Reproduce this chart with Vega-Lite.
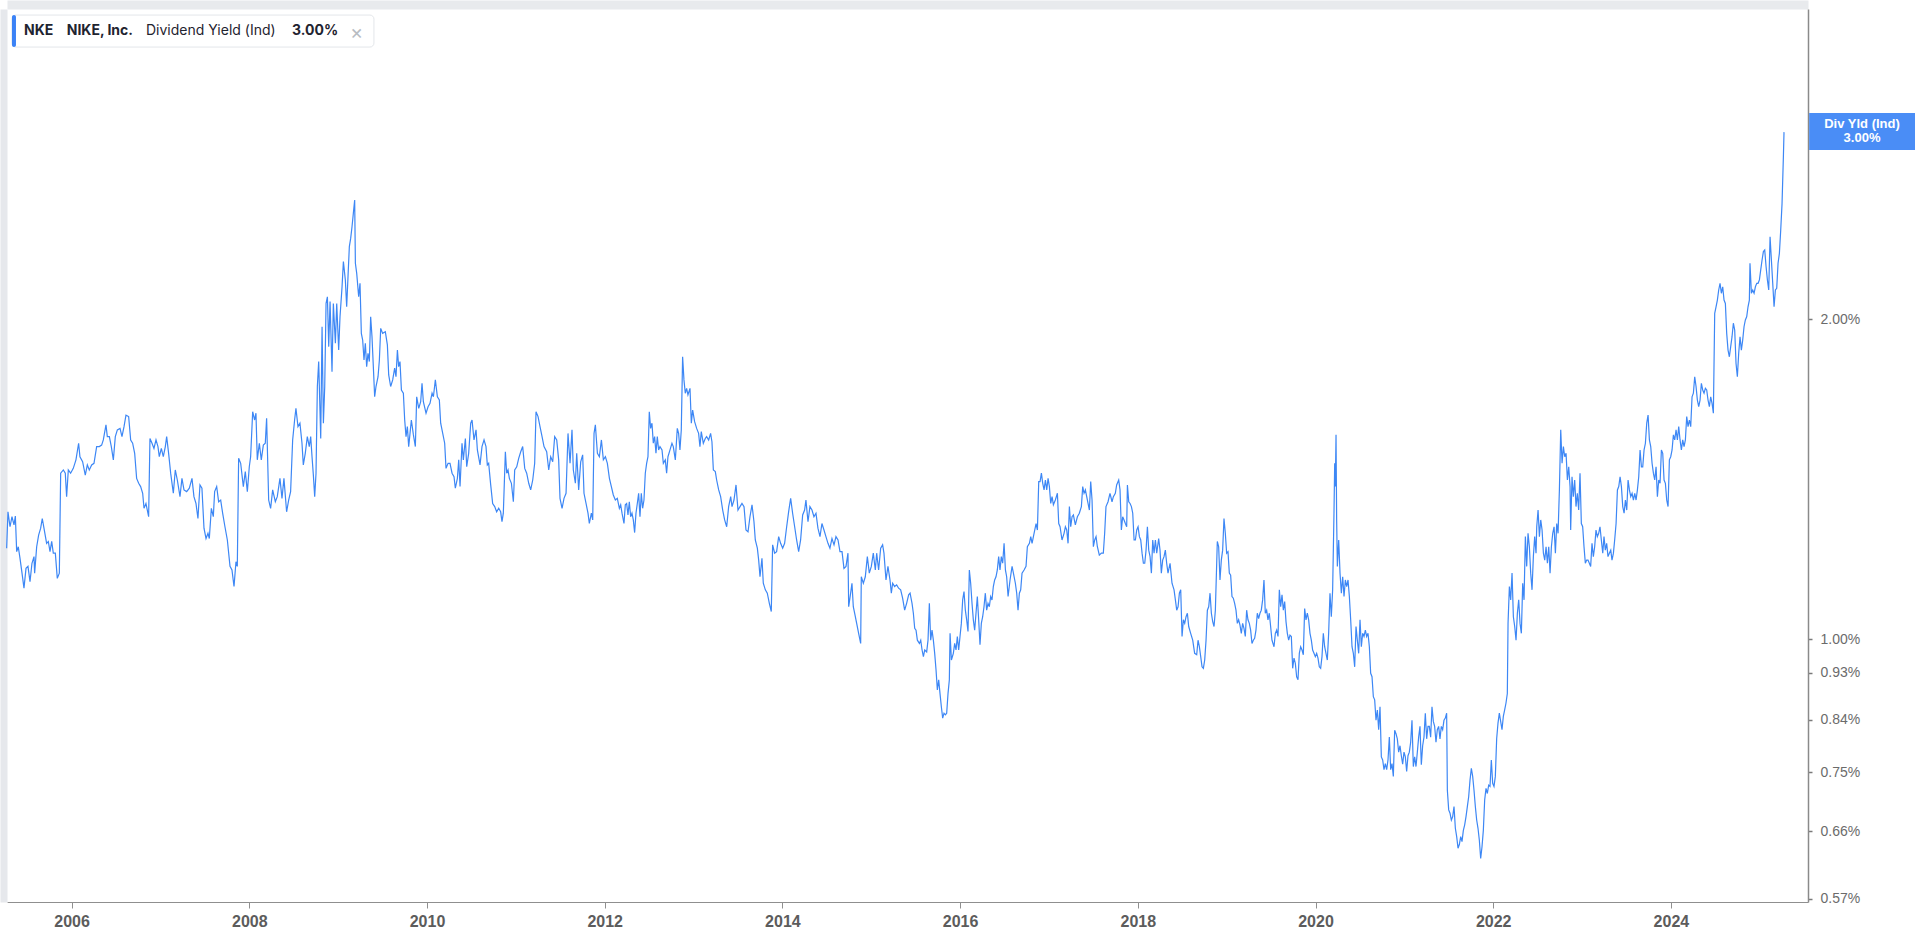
{
"$schema":"https://vega.github.io/schema/vega-lite/v6.json",
"width":1801,"height":893,
"autosize":{"type":"none"},
"padding":{"left":7,"top":9,"right":107,"bottom":36},
"background":"white",
"config":{"view":{"stroke":null},"font":"Liberation Sans"},
"datasets":{"nke":[
{"year":2005.269,"yield":1.218},{"year":2005.284,"yield":1.318},{"year":2005.307,"yield":1.276},{"year":2005.329,"yield":1.304},{"year":2005.352,"yield":1.281},{"year":2005.367,"yield":1.306},{"year":2005.382,"yield":1.209},{"year":2005.400,"yield":1.222},{"year":2005.419,"yield":1.192},{"year":2005.442,"yield":1.154},{"year":2005.464,"yield":1.117},{"year":2005.487,"yield":1.166},{"year":2005.509,"yield":1.171},{"year":2005.532,"yield":1.133},{"year":2005.554,"yield":1.179},{"year":2005.577,"yield":1.196},{"year":2005.584,"yield":1.154},{"year":2005.607,"yield":1.222},{"year":2005.629,"yield":1.253},{"year":2005.652,"yield":1.272},{"year":2005.670,"yield":1.299},{"year":2005.689,"yield":1.272},{"year":2005.719,"yield":1.231},{"year":2005.738,"yield":1.236},{"year":2005.757,"yield":1.209},{"year":2005.776,"yield":1.236},{"year":2005.794,"yield":1.205},{"year":2005.817,"yield":1.205},{"year":2005.839,"yield":1.141},{"year":2005.862,"yield":1.154},{"year":2005.877,"yield":1.433},{"year":2005.907,"yield":1.443},{"year":2005.929,"yield":1.433},{"year":2005.944,"yield":1.362},{"year":2005.963,"yield":1.443},{"year":2005.989,"yield":1.433},{"year":2006.019,"yield":1.448},{"year":2006.049,"yield":1.475},{"year":2006.079,"yield":1.529},{"year":2006.094,"yield":1.485},{"year":2006.124,"yield":1.469},{"year":2006.154,"yield":1.427},{"year":2006.177,"yield":1.459},{"year":2006.199,"yield":1.443},{"year":2006.226,"yield":1.459},{"year":2006.252,"yield":1.464},{"year":2006.282,"yield":1.518},{"year":2006.312,"yield":1.518},{"year":2006.338,"yield":1.523},{"year":2006.357,"yield":1.540},{"year":2006.387,"yield":1.591},{"year":2006.402,"yield":1.551},{"year":2006.425,"yield":1.551},{"year":2006.447,"yield":1.518},{"year":2006.470,"yield":1.475},{"year":2006.492,"yield":1.551},{"year":2006.515,"yield":1.574},{"year":2006.545,"yield":1.579},{"year":2006.567,"yield":1.551},{"year":2006.590,"yield":1.585},{"year":2006.612,"yield":1.625},{"year":2006.642,"yield":1.620},{"year":2006.665,"yield":1.540},{"year":2006.687,"yield":1.529},{"year":2006.710,"yield":1.496},{"year":2006.732,"yield":1.417},{"year":2006.755,"yield":1.402},{"year":2006.777,"yield":1.392},{"year":2006.800,"yield":1.372},{"year":2006.815,"yield":1.328},{"year":2006.837,"yield":1.342},{"year":2006.867,"yield":1.304},{"year":2006.882,"yield":1.545},{"year":2006.905,"yield":1.529},{"year":2006.927,"yield":1.512},{"year":2006.950,"yield":1.540},{"year":2006.972,"yield":1.518},{"year":2006.987,"yield":1.485},{"year":2007.010,"yield":1.512},{"year":2007.032,"yield":1.485},{"year":2007.055,"yield":1.518},{"year":2007.070,"yield":1.551},{"year":2007.092,"yield":1.496},{"year":2007.115,"yield":1.433},{"year":2007.145,"yield":1.372},{"year":2007.167,"yield":1.443},{"year":2007.190,"yield":1.412},{"year":2007.220,"yield":1.362},{"year":2007.242,"yield":1.417},{"year":2007.265,"yield":1.382},{"year":2007.295,"yield":1.377},{"year":2007.325,"yield":1.387},{"year":2007.355,"yield":1.417},{"year":2007.377,"yield":1.362},{"year":2007.400,"yield":1.342},{"year":2007.422,"yield":1.299},{"year":2007.445,"yield":1.397},{"year":2007.467,"yield":1.387},{"year":2007.490,"yield":1.272},{"year":2007.513,"yield":1.244},{"year":2007.535,"yield":1.258},{"year":2007.550,"yield":1.244},{"year":2007.573,"yield":1.328},{"year":2007.595,"yield":1.304},{"year":2007.610,"yield":1.377},{"year":2007.633,"yield":1.392},{"year":2007.655,"yield":1.347},{"year":2007.678,"yield":1.352},{"year":2007.700,"yield":1.314},{"year":2007.726,"yield":1.276},{"year":2007.753,"yield":1.240},{"year":2007.783,"yield":1.171},{"year":2007.805,"yield":1.162},{"year":2007.828,"yield":1.121},{"year":2007.850,"yield":1.183},{"year":2007.865,"yield":1.171},{"year":2007.880,"yield":1.480},{"year":2007.903,"yield":1.464},{"year":2007.933,"yield":1.392},{"year":2007.955,"yield":1.438},{"year":2007.978,"yield":1.377},{"year":2008.000,"yield":1.453},{"year":2008.015,"yield":1.485},{"year":2008.038,"yield":1.637},{"year":2008.060,"yield":1.608},{"year":2008.075,"yield":1.632},{"year":2008.090,"yield":1.475},{"year":2008.113,"yield":1.529},{"year":2008.135,"yield":1.475},{"year":2008.158,"yield":1.523},{"year":2008.180,"yield":1.529},{"year":2008.195,"yield":1.614},{"year":2008.218,"yield":1.352},{"year":2008.240,"yield":1.328},{"year":2008.263,"yield":1.382},{"year":2008.293,"yield":1.347},{"year":2008.315,"yield":1.362},{"year":2008.345,"yield":1.417},{"year":2008.368,"yield":1.357},{"year":2008.390,"yield":1.417},{"year":2008.420,"yield":1.318},{"year":2008.443,"yield":1.352},{"year":2008.465,"yield":1.377},{"year":2008.488,"yield":1.540},{"year":2008.510,"yield":1.608},{"year":2008.525,"yield":1.649},{"year":2008.548,"yield":1.585},{"year":2008.570,"yield":1.597},{"year":2008.593,"yield":1.529},{"year":2008.608,"yield":1.459},{"year":2008.630,"yield":1.496},{"year":2008.653,"yield":1.551},{"year":2008.675,"yield":1.518},
{"year":2008.691,"yield":1.551},{"year":2008.706,"yield":1.485},{"year":2008.721,"yield":1.427},{"year":2008.736,"yield":1.362},{"year":2008.751,"yield":1.433},{"year":2008.766,"yield":1.729},{"year":2008.781,"yield":1.825},{"year":2008.804,"yield":1.545},{"year":2008.819,"yield":1.968},{"year":2008.834,"yield":1.597},{"year":2008.849,"yield":1.729},{"year":2008.864,"yield":2.070},{"year":2008.879,"yield":2.100},{"year":2008.894,"yield":1.885},{"year":2008.909,"yield":2.078},{"year":2008.931,"yield":1.785},{"year":2008.946,"yield":2.070},{"year":2008.969,"yield":1.899},{"year":2008.984,"yield":2.070},{"year":2009.006,"yield":1.871},{"year":2009.021,"yield":2.011},{"year":2009.044,"yield":2.146},{"year":2009.059,"yield":2.266},{"year":2009.081,"yield":2.178},{"year":2009.096,"yield":2.055},{"year":2009.111,"yield":2.193},{"year":2009.126,"yield":2.341},{"year":2009.141,"yield":2.383},{"year":2009.156,"yield":2.444},{"year":2009.171,"yield":2.516},{"year":2009.186,"yield":2.590},{"year":2009.194,"yield":2.258},{"year":2009.209,"yield":2.209},{"year":2009.231,"yield":2.100},{"year":2009.246,"yield":2.162},{"year":2009.261,"yield":1.940},{"year":2009.276,"yield":1.912},{"year":2009.291,"yield":1.831},{"year":2009.306,"yield":1.899},{"year":2009.321,"yield":1.805},{"year":2009.336,"yield":1.858},{"year":2009.351,"yield":1.825},{"year":2009.366,"yield":2.011},{"year":2009.381,"yield":1.926},{"year":2009.396,"yield":1.805},{"year":2009.411,"yield":1.691},{"year":2009.426,"yield":1.729},{"year":2009.449,"yield":1.766},{"year":2009.464,"yield":1.831},{"year":2009.479,"yield":1.961},{"year":2009.501,"yield":1.940},{"year":2009.531,"yield":1.947},{"year":2009.554,"yield":1.892},{"year":2009.569,"yield":1.773},{"year":2009.591,"yield":1.729},{"year":2009.614,"yield":1.754},{"year":2009.636,"yield":1.799},{"year":2009.651,"yield":1.766},{"year":2009.667,"yield":1.871},{"year":2009.681,"yield":1.805},{"year":2009.696,"yield":1.825},{"year":2009.712,"yield":1.716},{"year":2009.734,"yield":1.704},{"year":2009.749,"yield":1.608},{"year":2009.764,"yield":1.551},{"year":2009.779,"yield":1.585},{"year":2009.794,"yield":1.518},{"year":2009.809,"yield":1.562},{"year":2009.824,"yield":1.608},{"year":2009.847,"yield":1.557},{"year":2009.869,"yield":1.518},{"year":2009.884,"yield":1.691},{"year":2009.907,"yield":1.649},{"year":2009.929,"yield":1.673},{"year":2009.944,"yield":1.741},{"year":2009.959,"yield":1.673},{"year":2009.989,"yield":1.632},{"year":2010.012,"yield":1.655},{"year":2010.034,"yield":1.667},{"year":2010.057,"yield":1.704},{"year":2010.072,"yield":1.691},{"year":2010.094,"yield":1.754},{"year":2010.117,"yield":1.691},{"year":2010.139,"yield":1.679},{"year":2010.154,"yield":1.597},{"year":2010.177,"yield":1.562},{"year":2010.199,"yield":1.529},{"year":2010.214,"yield":1.448},{"year":2010.237,"yield":1.464},{"year":2010.259,"yield":1.464},{"year":2010.282,"yield":1.433},{"year":2010.304,"yield":1.422},{"year":2010.319,"yield":1.387},{"year":2010.342,"yield":1.417},{"year":2010.357,"yield":1.475},{"year":2010.372,"yield":1.392},{"year":2010.394,"yield":1.529},{"year":2010.409,"yield":1.475},{"year":2010.432,"yield":1.545},{"year":2010.447,"yield":1.453},{"year":2010.469,"yield":1.496},{"year":2010.492,"yield":1.597},{"year":2010.507,"yield":1.608},{"year":2010.529,"yield":1.540},{"year":2010.552,"yield":1.574},{"year":2010.567,"yield":1.507},{"year":2010.597,"yield":1.459},{"year":2010.619,"yield":1.518},{"year":2010.642,"yield":1.540},{"year":2010.664,"yield":1.518},{"year":2010.679,"yield":1.459},{"year":2010.694,"yield":1.464},{"year":2010.717,"yield":1.397},{"year":2010.739,"yield":1.342},{"year":2010.762,"yield":1.333},{"year":2010.784,"yield":1.318},{"year":2010.807,"yield":1.328},{"year":2010.829,"yield":1.318},{"year":2010.844,"yield":1.290},{"year":2010.859,"yield":1.314},{"year":2010.882,"yield":1.501},{"year":2010.897,"yield":1.433},{"year":2010.912,"yield":1.443},{"year":2010.927,"yield":1.417},{"year":2010.950,"yield":1.402},{"year":2010.972,"yield":1.347},{"year":2010.987,"yield":1.443},{"year":2011.010,"yield":1.453},{"year":2011.032,"yield":1.480},{"year":2011.055,"yield":1.501},{"year":2011.077,"yield":1.518},{"year":2011.100,"yield":1.448},{"year":2011.122,"yield":1.433},{"year":2011.145,"yield":1.402},{"year":2011.167,"yield":1.382},{"year":2011.190,"yield":1.412},{"year":2011.212,"yield":1.464},{"year":2011.227,"yield":1.637},{"year":2011.250,"yield":1.620},{"year":2011.272,"yield":1.585},{"year":2011.295,"yield":1.551},{"year":2011.317,"yield":1.518},{"year":2011.347,"yield":1.501},{"year":2011.370,"yield":1.443},{"year":2011.392,"yield":1.485},{"year":2011.415,"yield":1.469},{"year":2011.437,"yield":1.551},{"year":2011.460,"yield":1.540},{"year":2011.482,"yield":1.475},{"year":2011.497,"yield":1.357},{"year":2011.520,"yield":1.328},{"year":2011.542,"yield":1.357},{"year":2011.565,"yield":1.372},{"year":2011.587,"yield":1.562},{"year":2011.610,"yield":1.464},{"year":2011.632,"yield":1.574},{"year":2011.647,"yield":1.443},{"year":2011.670,"yield":1.402},{"year":2011.685,"yield":1.496},{"year":2011.707,"yield":1.382},{"year":2011.730,"yield":1.469},{"year":2011.752,"yield":1.491},{"year":2011.767,"yield":1.372},{"year":2011.790,"yield":1.342},{"year":2011.812,"yield":1.314},{"year":2011.827,"yield":1.285},{"year":2011.850,"yield":1.314},{"year":2011.865,"yield":1.295},{"year":2011.880,"yield":1.562},{"year":2011.895,"yield":1.591},{"year":2011.918,"yield":1.496},{"year":2011.940,"yield":1.485},{"year":2011.963,"yield":1.540},{"year":2011.985,"yield":1.475},{"year":2012.008,"yield":1.485},{"year":2012.030,"yield":1.464},{"year":2012.053,"yield":1.417},
{"year":2012.075,"yield":1.392},{"year":2012.097,"yield":1.367},{"year":2012.120,"yield":1.352},{"year":2012.142,"yield":1.357},{"year":2012.165,"yield":1.328},{"year":2012.180,"yield":1.338},{"year":2012.195,"yield":1.314},{"year":2012.217,"yield":1.285},{"year":2012.232,"yield":1.338},{"year":2012.247,"yield":1.342},{"year":2012.262,"yield":1.309},{"year":2012.277,"yield":1.347},{"year":2012.292,"yield":1.304},{"year":2012.307,"yield":1.314},{"year":2012.322,"yield":1.295},{"year":2012.337,"yield":1.260},{"year":2012.352,"yield":1.314},{"year":2012.367,"yield":1.342},{"year":2012.382,"yield":1.372},{"year":2012.397,"yield":1.304},{"year":2012.412,"yield":1.372},{"year":2012.427,"yield":1.328},{"year":2012.442,"yield":1.352},{"year":2012.457,"yield":1.433},{"year":2012.472,"yield":1.464},{"year":2012.487,"yield":1.485},{"year":2012.502,"yield":1.637},{"year":2012.517,"yield":1.579},{"year":2012.532,"yield":1.597},{"year":2012.547,"yield":1.529},{"year":2012.562,"yield":1.551},{"year":2012.577,"yield":1.496},{"year":2012.592,"yield":1.551},{"year":2012.607,"yield":1.507},{"year":2012.622,"yield":1.518},{"year":2012.645,"yield":1.507},{"year":2012.660,"yield":1.464},{"year":2012.682,"yield":1.475},{"year":2012.697,"yield":1.433},{"year":2012.712,"yield":1.485},{"year":2012.735,"yield":1.507},{"year":2012.757,"yield":1.529},{"year":2012.772,"yield":1.518},{"year":2012.795,"yield":1.475},{"year":2012.817,"yield":1.579},{"year":2012.832,"yield":1.562},{"year":2012.847,"yield":1.507},{"year":2012.862,"yield":1.574},{"year":2012.877,"yield":1.844},{"year":2012.892,"yield":1.754},{"year":2012.907,"yield":1.704},{"year":2012.922,"yield":1.722},{"year":2012.937,"yield":1.698},{"year":2012.960,"yield":1.722},{"year":2012.975,"yield":1.597},{"year":2012.990,"yield":1.643},{"year":2013.012,"yield":1.602},{"year":2013.035,"yield":1.579},{"year":2013.057,"yield":1.562},{"year":2013.072,"yield":1.518},{"year":2013.087,"yield":1.568},{"year":2013.110,"yield":1.529},{"year":2013.132,"yield":1.545},{"year":2013.147,"yield":1.551},{"year":2013.170,"yield":1.540},{"year":2013.192,"yield":1.562},{"year":2013.207,"yield":1.534},{"year":2013.223,"yield":1.443},{"year":2013.245,"yield":1.438},{"year":2013.260,"yield":1.412},{"year":2013.283,"yield":1.382},{"year":2013.305,"yield":1.362},{"year":2013.328,"yield":1.323},{"year":2013.350,"yield":1.295},{"year":2013.373,"yield":1.276},{"year":2013.395,"yield":1.333},{"year":2013.418,"yield":1.362},{"year":2013.433,"yield":1.333},{"year":2013.455,"yield":1.352},{"year":2013.478,"yield":1.397},{"year":2013.500,"yield":1.323},{"year":2013.523,"yield":1.333},{"year":2013.545,"yield":1.342},{"year":2013.568,"yield":1.333},{"year":2013.590,"yield":1.267},{"year":2013.613,"yield":1.262},{"year":2013.635,"yield":1.304},{"year":2013.658,"yield":1.338},{"year":2013.680,"yield":1.290},{"year":2013.695,"yield":1.240},{"year":2013.718,"yield":1.218},{"year":2013.733,"yield":1.187},{"year":2013.748,"yield":1.145},{"year":2013.770,"yield":1.192},{"year":2013.785,"yield":1.129},{"year":2013.808,"yield":1.113},{"year":2013.830,"yield":1.105},{"year":2013.853,"yield":1.081},{"year":2013.875,"yield":1.062},{"year":2013.890,"yield":1.227},{"year":2013.913,"yield":1.205},{"year":2013.935,"yield":1.209},{"year":2013.958,"yield":1.249},{"year":2013.980,"yield":1.231},{"year":2014.003,"yield":1.218},{"year":2014.025,"yield":1.231},{"year":2014.048,"yield":1.276},{"year":2014.070,"yield":1.318},{"year":2014.093,"yield":1.357},{"year":2014.115,"yield":1.314},{"year":2014.138,"yield":1.276},{"year":2014.160,"yield":1.240},{"year":2014.183,"yield":1.209},{"year":2014.205,"yield":1.240},{"year":2014.228,"yield":1.309},{"year":2014.250,"yield":1.323},{"year":2014.265,"yield":1.352},{"year":2014.288,"yield":1.290},{"year":2014.310,"yield":1.333},{"year":2014.333,"yield":1.323},{"year":2014.355,"yield":1.304},{"year":2014.378,"yield":1.314},{"year":2014.400,"yield":1.272},{"year":2014.423,"yield":1.249},{"year":2014.445,"yield":1.285},{"year":2014.468,"yield":1.267},{"year":2014.490,"yield":1.249},{"year":2014.513,"yield":1.231},{"year":2014.535,"yield":1.218},{"year":2014.558,"yield":1.244},{"year":2014.581,"yield":1.227},{"year":2014.603,"yield":1.249},{"year":2014.626,"yield":1.240},{"year":2014.648,"yield":1.209},{"year":2014.671,"yield":1.209},{"year":2014.693,"yield":1.166},{"year":2014.716,"yield":1.171},{"year":2014.738,"yield":1.205},{"year":2014.746,"yield":1.073},{"year":2014.768,"yield":1.105},{"year":2014.783,"yield":1.129},{"year":2014.798,"yield":1.073},{"year":2014.813,"yield":1.058},{"year":2014.836,"yield":1.035},{"year":2014.858,"yield":1.013},{"year":2014.881,"yield":0.991},{"year":2014.888,"yield":1.145},{"year":2014.911,"yield":1.129},{"year":2014.933,"yield":1.145},{"year":2014.956,"yield":1.196},{"year":2014.978,"yield":1.154},{"year":2015.001,"yield":1.171},{"year":2015.023,"yield":1.205},{"year":2015.046,"yield":1.162},{"year":2015.061,"yield":1.205},{"year":2015.083,"yield":1.162},{"year":2015.106,"yield":1.218},{"year":2015.128,"yield":1.227},{"year":2015.143,"yield":1.205},{"year":2015.166,"yield":1.137},{"year":2015.188,"yield":1.171},{"year":2015.211,"yield":1.137},{"year":2015.226,"yield":1.105},{"year":2015.241,"yield":1.129},{"year":2015.263,"yield":1.121},{"year":2015.286,"yield":1.125},{"year":2015.308,"yield":1.117},{"year":2015.331,"yield":1.113},{"year":2015.353,"yield":1.093},{"year":2015.376,"yield":1.065},{"year":2015.398,"yield":1.081},{"year":2015.421,"yield":1.101},
{"year":2015.437,"yield":1.105},{"year":2015.459,"yield":1.081},{"year":2015.474,"yield":1.058},{"year":2015.489,"yield":1.024},{"year":2015.504,"yield":1.020},{"year":2015.519,"yield":0.998},{"year":2015.542,"yield":0.991},{"year":2015.557,"yield":0.998},{"year":2015.572,"yield":0.977},{"year":2015.587,"yield":0.963},{"year":2015.602,"yield":0.977},{"year":2015.624,"yield":0.973},{"year":2015.639,"yield":0.998},{"year":2015.654,"yield":1.081},{"year":2015.669,"yield":0.998},{"year":2015.684,"yield":1.020},{"year":2015.699,"yield":0.998},{"year":2015.714,"yield":0.970},{"year":2015.729,"yield":0.936},{"year":2015.744,"yield":0.896},{"year":2015.759,"yield":0.916},{"year":2015.774,"yield":0.889},{"year":2015.789,"yield":0.864},{"year":2015.804,"yield":0.843},{"year":2015.819,"yield":0.852},{"year":2015.834,"yield":0.849},{"year":2015.849,"yield":0.852},{"year":2015.864,"yield":0.889},{"year":2015.879,"yield":0.916},{"year":2015.887,"yield":1.013},{"year":2015.902,"yield":0.956},{"year":2015.924,"yield":0.970},{"year":2015.939,"yield":0.991},{"year":2015.954,"yield":0.977},{"year":2015.969,"yield":1.006},{"year":2015.984,"yield":0.977},{"year":2015.999,"yield":1.006},{"year":2016.014,"yield":1.035},{"year":2016.029,"yield":1.089},{"year":2016.044,"yield":1.109},{"year":2016.059,"yield":1.065},{"year":2016.074,"yield":1.043},{"year":2016.089,"yield":1.017},{"year":2016.104,"yield":1.162},{"year":2016.119,"yield":1.129},{"year":2016.134,"yield":1.081},{"year":2016.149,"yield":1.043},{"year":2016.164,"yield":1.020},{"year":2016.179,"yield":1.058},{"year":2016.194,"yield":1.097},{"year":2016.209,"yield":1.043},{"year":2016.224,"yield":0.988},{"year":2016.239,"yield":1.035},{"year":2016.254,"yield":1.050},{"year":2016.269,"yield":1.073},{"year":2016.284,"yield":1.105},{"year":2016.299,"yield":1.065},{"year":2016.314,"yield":1.081},{"year":2016.329,"yield":1.073},{"year":2016.344,"yield":1.097},{"year":2016.359,"yield":1.089},{"year":2016.374,"yield":1.121},{"year":2016.389,"yield":1.137},{"year":2016.404,"yield":1.145},{"year":2016.419,"yield":1.162},{"year":2016.434,"yield":1.196},{"year":2016.449,"yield":1.162},{"year":2016.464,"yield":1.196},{"year":2016.479,"yield":1.179},{"year":2016.495,"yield":1.231},{"year":2016.510,"yield":1.162},{"year":2016.524,"yield":1.145},{"year":2016.540,"yield":1.097},{"year":2016.562,"yield":1.137},{"year":2016.585,"yield":1.171},{"year":2016.600,"yield":1.154},{"year":2016.622,"yield":1.129},{"year":2016.637,"yield":1.105},{"year":2016.652,"yield":1.065},{"year":2016.667,"yield":1.105},{"year":2016.682,"yield":1.113},{"year":2016.697,"yield":1.154},{"year":2016.720,"yield":1.162},{"year":2016.742,"yield":1.171},{"year":2016.757,"yield":1.222},{"year":2016.780,"yield":1.231},{"year":2016.795,"yield":1.249},{"year":2016.810,"yield":1.231},{"year":2016.825,"yield":1.249},{"year":2016.840,"yield":1.267},{"year":2016.855,"yield":1.285},{"year":2016.870,"yield":1.267},{"year":2016.885,"yield":1.407},{"year":2016.900,"yield":1.407},{"year":2016.915,"yield":1.433},{"year":2016.930,"yield":1.402},{"year":2016.945,"yield":1.382},{"year":2016.960,"yield":1.412},{"year":2016.975,"yield":1.382},{"year":2016.990,"yield":1.417},{"year":2017.005,"yield":1.392},{"year":2017.020,"yield":1.342},{"year":2017.035,"yield":1.362},{"year":2017.050,"yield":1.338},{"year":2017.072,"yield":1.352},{"year":2017.095,"yield":1.372},{"year":2017.110,"yield":1.285},{"year":2017.125,"yield":1.276},{"year":2017.147,"yield":1.240},{"year":2017.170,"yield":1.258},{"year":2017.185,"yield":1.276},{"year":2017.200,"yield":1.267},{"year":2017.215,"yield":1.231},{"year":2017.230,"yield":1.333},{"year":2017.245,"yield":1.276},{"year":2017.260,"yield":1.304},{"year":2017.275,"yield":1.309},{"year":2017.297,"yield":1.281},{"year":2017.320,"yield":1.304},{"year":2017.342,"yield":1.314},{"year":2017.365,"yield":1.333},{"year":2017.380,"yield":1.392},{"year":2017.395,"yield":1.372},{"year":2017.410,"yield":1.382},{"year":2017.425,"yield":1.362},{"year":2017.440,"yield":1.342},{"year":2017.455,"yield":1.323},{"year":2017.470,"yield":1.407},{"year":2017.485,"yield":1.352},{"year":2017.500,"yield":1.222},{"year":2017.515,"yield":1.240},{"year":2017.530,"yield":1.249},{"year":2017.545,"yield":1.222},{"year":2017.567,"yield":1.200},{"year":2017.590,"yield":1.205},{"year":2017.612,"yield":1.205},{"year":2017.627,"yield":1.258},{"year":2017.642,"yield":1.333},{"year":2017.665,"yield":1.347},{"year":2017.687,"yield":1.372},{"year":2017.710,"yield":1.347},{"year":2017.725,"yield":1.362},{"year":2017.747,"yield":1.372},{"year":2017.762,"yield":1.397},{"year":2017.785,"yield":1.412},{"year":2017.800,"yield":1.382},{"year":2017.815,"yield":1.267},{"year":2017.830,"yield":1.304},{"year":2017.845,"yield":1.295},{"year":2017.860,"yield":1.285},{"year":2017.875,"yield":1.276},{"year":2017.883,"yield":1.397},{"year":2017.898,"yield":1.347},{"year":2017.913,"yield":1.342},{"year":2017.928,"yield":1.333},{"year":2017.943,"yield":1.314},{"year":2017.958,"yield":1.240},{"year":2017.973,"yield":1.240},{"year":2017.988,"yield":1.267},{"year":2018.003,"yield":1.276},{"year":2018.018,"yield":1.249},{"year":2018.033,"yield":1.240},{"year":2018.048,"yield":1.205},{"year":2018.063,"yield":1.179},{"year":2018.078,"yield":1.179},{"year":2018.093,"yield":1.213},{"year":2018.108,"yield":1.276},{"year":2018.123,"yield":1.213},{"year":2018.138,"yield":1.196},{"year":2018.153,"yield":1.154},{"year":2018.168,"yield":1.240},{"year":2018.183,"yield":1.205},{"year":2018.198,"yield":1.240},{"year":2018.213,"yield":1.205},{"year":2018.235,"yield":1.244},{"year":2018.250,"yield":1.213},{"year":2018.265,"yield":1.154},{"year":2018.280,"yield":1.187},{"year":2018.295,"yield":1.196},{"year":2018.310,"yield":1.213},{"year":2018.325,"yield":1.179},{"year":2018.340,"yield":1.154},{"year":2018.363,"yield":1.179},{"year":2018.385,"yield":1.129},{"year":2018.408,"yield":1.113},{"year":2018.423,"yield":1.089},{"year":2018.438,"yield":1.065},{"year":2018.453,"yield":1.073},{"year":2018.468,"yield":1.105},{"year":2018.483,"yield":1.113},{"year":2018.498,"yield":1.006},{"year":2018.513,"yield":1.043},{"year":2018.528,"yield":1.035},{"year":2018.543,"yield":1.050},{"year":2018.558,"yield":1.058},{"year":2018.573,"yield":1.028},{"year":2018.595,"yield":1.013},{"year":2018.618,"yield":0.998},{"year":2018.640,"yield":0.970},{"year":2018.663,"yield":0.967},{"year":2018.678,"yield":0.998},{"year":2018.693,"yield":0.984},{"year":2018.708,"yield":0.963},{"year":2018.723,"yield":0.942},{"year":2018.738,"yield":0.939},{"year":2018.753,"yield":0.956},{"year":2018.768,"yield":0.998},{"year":2018.783,"yield":1.065},{"year":2018.798,"yield":1.073},{"year":2018.813,"yield":1.105},
{"year":2018.828,"yield":1.058},{"year":2018.843,"yield":1.039},{"year":2018.858,"yield":1.028},{"year":2018.873,"yield":1.065},{"year":2018.888,"yield":1.179},{"year":2018.895,"yield":1.236},{"year":2018.910,"yield":1.222},{"year":2018.925,"yield":1.137},{"year":2018.940,"yield":1.187},{"year":2018.955,"yield":1.213},{"year":2018.970,"yield":1.299},{"year":2018.985,"yield":1.258},{"year":2019.000,"yield":1.205},{"year":2019.015,"yield":1.209},{"year":2019.030,"yield":1.154},{"year":2019.045,"yield":1.149},{"year":2019.060,"yield":1.097},{"year":2019.075,"yield":1.093},{"year":2019.090,"yield":1.081},{"year":2019.105,"yield":1.065},{"year":2019.120,"yield":1.035},{"year":2019.135,"yield":1.043},{"year":2019.150,"yield":1.031},{"year":2019.165,"yield":1.013},{"year":2019.180,"yield":1.035},{"year":2019.195,"yield":1.024},{"year":2019.210,"yield":1.006},{"year":2019.225,"yield":1.065},{"year":2019.240,"yield":1.043},{"year":2019.255,"yield":1.035},{"year":2019.270,"yield":1.020},{"year":2019.285,"yield":0.991},{"year":2019.300,"yield":0.998},{"year":2019.315,"yield":1.002},{"year":2019.330,"yield":1.020},{"year":2019.345,"yield":1.058},{"year":2019.360,"yield":1.046},{"year":2019.375,"yield":1.058},{"year":2019.390,"yield":1.065},{"year":2019.405,"yield":1.089},{"year":2019.420,"yield":1.137},{"year":2019.435,"yield":1.058},{"year":2019.450,"yield":1.065},{"year":2019.465,"yield":1.043},{"year":2019.480,"yield":1.058},{"year":2019.495,"yield":1.028},{"year":2019.510,"yield":0.998},{"year":2019.533,"yield":0.984},{"year":2019.548,"yield":1.013},{"year":2019.563,"yield":1.020},{"year":2019.578,"yield":1.006},{"year":2019.593,"yield":1.113},{"year":2019.608,"yield":1.073},{"year":2019.623,"yield":1.101},{"year":2019.638,"yield":1.065},{"year":2019.653,"yield":1.085},{"year":2019.668,"yield":1.039},{"year":2019.683,"yield":1.013},{"year":2019.698,"yield":0.998},{"year":2019.713,"yield":1.009},{"year":2019.728,"yield":1.006},{"year":2019.743,"yield":0.939},{"year":2019.758,"yield":0.960},{"year":2019.773,"yield":0.949},{"year":2019.788,"yield":0.922},{"year":2019.803,"yield":0.916},{"year":2019.818,"yield":0.970},{"year":2019.833,"yield":0.984},{"year":2019.848,"yield":0.977},{"year":2019.863,"yield":0.967},{"year":2019.878,"yield":1.069},{"year":2019.893,"yield":1.043},{"year":2019.908,"yield":1.058},{"year":2019.923,"yield":1.043},{"year":2019.938,"yield":1.013},{"year":2019.953,"yield":0.998},{"year":2019.968,"yield":0.977},{"year":2019.983,"yield":0.970},{"year":2019.998,"yield":0.963},{"year":2020.013,"yield":0.970},{"year":2020.028,"yield":0.960},{"year":2020.043,"yield":0.942},{"year":2020.058,"yield":0.939},{"year":2020.073,"yield":0.963},{"year":2020.088,"yield":1.013},{"year":2020.103,"yield":0.984},{"year":2020.118,"yield":0.970},{"year":2020.133,"yield":0.956},{"year":2020.148,"yield":1.013},{"year":2020.163,"yield":1.105},{"year":2020.178,"yield":1.050},{"year":2020.193,"yield":1.113},{"year":2020.208,"yield":1.314},{"year":2020.216,"yield":1.464},{"year":2020.223,"yield":1.392},{"year":2020.231,"yield":1.557},{"year":2020.238,"yield":1.295},{"year":2020.246,"yield":1.171},{"year":2020.261,"yield":1.240},{"year":2020.276,"yield":1.154},{"year":2020.291,"yield":1.105},{"year":2020.306,"yield":1.145},{"year":2020.321,"yield":1.097},{"year":2020.336,"yield":1.137},{"year":2020.351,"yield":1.121},{"year":2020.366,"yield":1.137},{"year":2020.381,"yield":1.097},{"year":2020.396,"yield":1.043},{"year":2020.411,"yield":0.984},{"year":2020.426,"yield":0.970},{"year":2020.441,"yield":0.942},{"year":2020.456,"yield":1.028},{"year":2020.471,"yield":0.998},{"year":2020.486,"yield":0.970},{"year":2020.501,"yield":1.043},{"year":2020.516,"yield":0.984},{"year":2020.531,"yield":1.013},{"year":2020.546,"yield":1.006},{"year":2020.561,"yield":1.020},{"year":2020.576,"yield":1.006},{"year":2020.591,"yield":1.013},{"year":2020.606,"yield":0.984},{"year":2020.621,"yield":0.929},{"year":2020.636,"yield":0.922},{"year":2020.651,"yield":0.883},{"year":2020.666,"yield":0.877},{"year":2020.681,"yield":0.839},{"year":2020.696,"yield":0.858},{"year":2020.711,"yield":0.822},{"year":2020.726,"yield":0.864},{"year":2020.741,"yield":0.775},{"year":2020.756,"yield":0.770},{"year":2020.771,"yield":0.754},{"year":2020.786,"yield":0.764},{"year":2020.801,"yield":0.754},{"year":2020.816,"yield":0.770},{"year":2020.831,"yield":0.809},{"year":2020.846,"yield":0.754},{"year":2020.861,"yield":0.764},{"year":2020.876,"yield":0.743},{"year":2020.891,"yield":0.821},{"year":2020.906,"yield":0.815},{"year":2020.921,"yield":0.806},{"year":2020.936,"yield":0.783},{"year":2020.951,"yield":0.794},{"year":2020.966,"yield":0.777},{"year":2020.981,"yield":0.763},{"year":2020.996,"yield":0.783},{"year":2021.011,"yield":0.775},{"year":2021.026,"yield":0.751},{"year":2021.041,"yield":0.777},{"year":2021.056,"yield":0.783},{"year":2021.071,"yield":0.800},{"year":2021.086,"yield":0.839},{"year":2021.101,"yield":0.759},{"year":2021.116,"yield":0.775},{"year":2021.131,"yield":0.759},{"year":2021.146,"yield":0.783},{"year":2021.161,"yield":0.809},{"year":2021.176,"yield":0.828},{"year":2021.191,"yield":0.762},{"year":2021.206,"yield":0.794},{"year":2021.221,"yield":0.809},{"year":2021.236,"yield":0.852},{"year":2021.251,"yield":0.806},{"year":2021.266,"yield":0.828},{"year":2021.281,"yield":0.828},{"year":2021.296,"yield":0.809},{"year":2021.311,"yield":0.864},{"year":2021.326,"yield":0.837},{"year":2021.341,"yield":0.828},{"year":2021.356,"yield":0.800},{"year":2021.371,"yield":0.822},{"year":2021.386,"yield":0.828},{"year":2021.401,"yield":0.806},{"year":2021.416,"yield":0.828},{"year":2021.431,"yield":0.822},{"year":2021.446,"yield":0.839},{"year":2021.461,"yield":0.843},{"year":2021.476,"yield":0.852},{"year":2021.484,"yield":0.721},{"year":2021.499,"yield":0.691},{"year":2021.514,"yield":0.686},{"year":2021.529,"yield":0.676},{"year":2021.544,"yield":0.681},{"year":2021.559,"yield":0.696},{"year":2021.574,"yield":0.664},{"year":2021.589,"yield":0.652},{"year":2021.604,"yield":0.636},{"year":2021.619,"yield":0.641},{"year":2021.634,"yield":0.652},{"year":2021.649,"yield":0.645},{"year":2021.664,"yield":0.661},{"year":2021.679,"yield":0.669},{"year":2021.694,"yield":0.681},{"year":2021.709,"yield":0.696},{"year":2021.724,"yield":0.711},{"year":2021.739,"yield":0.737},{"year":2021.754,"yield":0.756},{"year":2021.769,"yield":0.743},{"year":2021.784,"yield":0.721},{"year":2021.799,"yield":0.696},{"year":2021.814,"yield":0.676},{"year":2021.829,"yield":0.664},{"year":2021.844,"yield":0.647},{"year":2021.859,"yield":0.622},{"year":2021.874,"yield":0.638},{"year":2021.889,"yield":0.661},{"year":2021.904,"yield":0.706},{"year":2021.919,"yield":0.724},{"year":2021.934,"yield":0.716},{"year":2021.949,"yield":0.729},{"year":2021.964,"yield":0.727},{"year":2021.979,"yield":0.770},{"year":2021.994,"yield":0.732},{"year":2022.009,"yield":0.727},{"year":2022.024,"yield":0.743},{"year":2022.039,"yield":0.806},{"year":2022.054,"yield":0.834},{"year":2022.069,"yield":0.852},{"year":2022.084,"yield":0.837},{"year":2022.099,"yield":0.822},{"year":2022.114,"yield":0.846},{"year":2022.129,"yield":0.858},{"year":2022.144,"yield":0.871},{"year":2022.159,"yield":0.889},
{"year":2022.167,"yield":1.035},{"year":2022.182,"yield":1.121},{"year":2022.197,"yield":1.089},{"year":2022.212,"yield":1.154},{"year":2022.227,"yield":1.050},{"year":2022.242,"yield":1.028},{"year":2022.257,"yield":0.998},{"year":2022.272,"yield":1.058},{"year":2022.287,"yield":1.089},{"year":2022.302,"yield":1.035},{"year":2022.317,"yield":1.013},{"year":2022.332,"yield":1.129},{"year":2022.347,"yield":1.089},{"year":2022.362,"yield":1.249},{"year":2022.377,"yield":1.171},{"year":2022.392,"yield":1.258},{"year":2022.407,"yield":1.222},{"year":2022.422,"yield":1.154},{"year":2022.437,"yield":1.113},{"year":2022.452,"yield":1.196},{"year":2022.467,"yield":1.249},{"year":2022.482,"yield":1.205},{"year":2022.490,"yield":1.276},{"year":2022.505,"yield":1.323},{"year":2022.520,"yield":1.249},{"year":2022.535,"yield":1.295},{"year":2022.550,"yield":1.267},{"year":2022.565,"yield":1.205},{"year":2022.580,"yield":1.187},{"year":2022.595,"yield":1.222},{"year":2022.610,"yield":1.179},{"year":2022.625,"yield":1.222},{"year":2022.640,"yield":1.154},{"year":2022.655,"yield":1.222},{"year":2022.670,"yield":1.258},{"year":2022.685,"yield":1.276},{"year":2022.700,"yield":1.205},{"year":2022.715,"yield":1.285},{"year":2022.730,"yield":1.258},{"year":2022.745,"yield":1.382},{"year":2022.760,"yield":1.574},{"year":2022.775,"yield":1.464},{"year":2022.790,"yield":1.518},{"year":2022.805,"yield":1.485},{"year":2022.820,"yield":1.496},{"year":2022.835,"yield":1.412},{"year":2022.850,"yield":1.453},{"year":2022.865,"yield":1.392},{"year":2022.872,"yield":1.267},{"year":2022.887,"yield":1.422},{"year":2022.902,"yield":1.362},{"year":2022.917,"yield":1.412},{"year":2022.932,"yield":1.333},{"year":2022.947,"yield":1.372},{"year":2022.962,"yield":1.323},{"year":2022.977,"yield":1.433},{"year":2022.992,"yield":1.285},{"year":2023.007,"yield":1.276},{"year":2023.022,"yield":1.222},{"year":2023.037,"yield":1.179},{"year":2023.052,"yield":1.187},{"year":2023.067,"yield":1.187},{"year":2023.082,"yield":1.179},{"year":2023.097,"yield":1.171},{"year":2023.112,"yield":1.231},{"year":2023.127,"yield":1.196},{"year":2023.142,"yield":1.222},{"year":2023.157,"yield":1.267},{"year":2023.172,"yield":1.249},{"year":2023.187,"yield":1.258},{"year":2023.202,"yield":1.276},{"year":2023.217,"yield":1.240},{"year":2023.233,"yield":1.205},{"year":2023.247,"yield":1.249},{"year":2023.262,"yield":1.213},{"year":2023.277,"yield":1.231},{"year":2023.292,"yield":1.196},{"year":2023.307,"yield":1.205},{"year":2023.323,"yield":1.213},{"year":2023.337,"yield":1.187},{"year":2023.353,"yield":1.205},{"year":2023.367,"yield":1.240},{"year":2023.383,"yield":1.285},{"year":2023.398,"yield":1.382},{"year":2023.413,"yield":1.392},{"year":2023.428,"yield":1.422},{"year":2023.443,"yield":1.392},{"year":2023.458,"yield":1.333},{"year":2023.473,"yield":1.314},{"year":2023.488,"yield":1.352},{"year":2023.503,"yield":1.323},{"year":2023.518,"yield":1.412},{"year":2023.533,"yield":1.382},{"year":2023.548,"yield":1.362},{"year":2023.563,"yield":1.372},{"year":2023.578,"yield":1.352},{"year":2023.593,"yield":1.372},{"year":2023.608,"yield":1.352},{"year":2023.623,"yield":1.382},{"year":2023.638,"yield":1.422},{"year":2023.653,"yield":1.507},{"year":2023.668,"yield":1.453},{"year":2023.683,"yield":1.453},{"year":2023.698,"yield":1.507},{"year":2023.713,"yield":1.529},{"year":2023.728,"yield":1.597},{"year":2023.743,"yield":1.625},{"year":2023.758,"yield":1.540},{"year":2023.773,"yield":1.518},{"year":2023.788,"yield":1.464},{"year":2023.803,"yield":1.433},{"year":2023.818,"yield":1.412},{"year":2023.833,"yield":1.453},{"year":2023.848,"yield":1.362},{"year":2023.863,"yield":1.412},{"year":2023.878,"yield":1.402},{"year":2023.893,"yield":1.507},{"year":2023.908,"yield":1.496},{"year":2023.923,"yield":1.412},{"year":2023.938,"yield":1.402},{"year":2023.953,"yield":1.352},{"year":2023.968,"yield":1.333},{"year":2023.983,"yield":1.475},{"year":2023.998,"yield":1.485},{"year":2024.013,"yield":1.507},{"year":2024.028,"yield":1.557},{"year":2024.043,"yield":1.540},{"year":2024.058,"yield":1.574},{"year":2024.073,"yield":1.540},{"year":2024.088,"yield":1.585},{"year":2024.103,"yield":1.540},{"year":2024.118,"yield":1.507},{"year":2024.133,"yield":1.540},{"year":2024.148,"yield":1.518},{"year":2024.163,"yield":1.540},{"year":2024.178,"yield":1.620},{"year":2024.193,"yield":1.585},{"year":2024.208,"yield":1.608},{"year":2024.223,"yield":1.585},{"year":2024.238,"yield":1.691},{"year":2024.253,"yield":1.704},{"year":2024.268,"yield":1.766},{"year":2024.283,"yield":1.729},{"year":2024.298,"yield":1.679},{"year":2024.313,"yield":1.655},{"year":2024.328,"yield":1.679},{"year":2024.343,"yield":1.741},{"year":2024.358,"yield":1.716},{"year":2024.373,"yield":1.704},{"year":2024.388,"yield":1.722},{"year":2024.403,"yield":1.716},{"year":2024.418,"yield":1.679},{"year":2024.433,"yield":1.655},{"year":2024.448,"yield":1.691},{"year":2024.463,"yield":1.667},{"year":2024.478,"yield":1.632},{"year":2024.493,"yield":2.026},{"year":2024.508,"yield":2.055},{"year":2024.523,"yield":2.085},{"year":2024.538,"yield":2.131},{"year":2024.553,"yield":2.162},{"year":2024.568,"yield":2.116},{"year":2024.583,"yield":2.146},{"year":2024.598,"yield":2.085},{"year":2024.613,"yield":2.070},{"year":2024.628,"yield":1.940},{"year":2024.643,"yield":1.871},{"year":2024.658,"yield":1.844},{"year":2024.673,"yield":1.885},{"year":2024.688,"yield":1.926},{"year":2024.703,"yield":1.983},{"year":2024.718,"yield":1.954},{"year":2024.733,"yield":1.818},{"year":2024.748,"yield":1.766},{"year":2024.763,"yield":1.858},{"year":2024.778,"yield":1.926},{"year":2024.793,"yield":1.871},{"year":2024.808,"yield":1.912},{"year":2024.823,"yield":1.968},{"year":2024.838,"yield":1.997},{"year":2024.853,"yield":2.011},{"year":2024.868,"yield":2.055},{"year":2024.883,"yield":2.085},{"year":2024.890,"yield":2.258},{"year":2024.906,"yield":2.116},{"year":2024.921,"yield":2.131},{"year":2024.936,"yield":2.116},{"year":2024.951,"yield":2.146},{"year":2024.966,"yield":2.162},{"year":2024.981,"yield":2.162},{"year":2024.996,"yield":2.178},{"year":2025.011,"yield":2.226},{"year":2025.026,"yield":2.274},{"year":2025.041,"yield":2.316},{"year":2025.056,"yield":2.324},{"year":2025.071,"yield":2.242},{"year":2025.086,"yield":2.178},{"year":2025.101,"yield":2.131},{"year":2025.116,"yield":2.392},{"year":2025.131,"yield":2.274},{"year":2025.146,"yield":2.162},{"year":2025.161,"yield":2.055},{"year":2025.176,"yield":2.131},{"year":2025.191,"yield":2.139},{"year":2025.206,"yield":2.258},{"year":2025.221,"yield":2.307},{"year":2025.236,"yield":2.427},{"year":2025.251,"yield":2.571},{"year":2025.266,"yield":2.845},{"year":2025.273,"yield":3.000}
]},
"resolve":{"axis":{"x":"independent","y":"independent"}},
"layer":[
{"data":{"name":"nke"},
 "mark":{"type":"line","color":"#3d87f5","strokeWidth":1.2},
 "encoding":{
  "x":{"field":"year","type":"quantitative","scale":{"domain":[2005.273,2025.543],"nice":false,"zero":false},
   "axis":{"orient":"bottom","values":[2006,2008,2010,2012,2014,2016,2018,2020,2022,2024],"format":"d","title":null,"grid":false,"labelFont":"Liberation Sans","labelFontSize":16,"labelFontWeight":"bold","labelColor":"#5c5c5c","tickColor":"#8f8f8f","tickSize":6,"domainColor":"#8f8f8f","domainWidth":1.2,"labelPadding":5,"labelFlush":false}},
  "y":{"field":"yield","type":"quantitative","scale":{"type":"log","domain":[0.566,3.917],"nice":false},
   "axis":{"orient":"right","values":[0.57,0.66,0.75,0.84,0.93,1,2],"labelExpr":"format(datum.value, '.2f') + '%'","title":null,"grid":false,"labelFont":"Liberation Sans","labelFontSize":14,"labelColor":"#6b6b6b","tickColor":"#7a7a7a","tickSize":4,"tickWidth":1.5,"domainColor":"#8a8a8a","domainWidth":1.5,"labelPadding":8}}}},
{"data":{"values":[{}]},
 "mark":{"type":"rect","fill":"white","stroke":"#e3e6ea","strokeWidth":1,"cornerRadius":4},
 "encoding":{
  "x":{"datum":2005.329,"axis":{"orient":"top","labels":false,"ticks":false,"grid":false,"title":null,"domainColor":"#e8eaed","domainWidth":9,"offset":4.5}},
  "x2":{"datum":2009.403},
  "y":{"datum":3.866,"axis":{"orient":"left","labels":false,"ticks":false,"grid":false,"title":null,"domainColor":"#e6e8ec","domainWidth":7,"offset":3.5}},
  "y2":{"datum":3.607}}},
{"data":{"values":[{}]},
 "mark":{"type":"rect","fill":"#3b82f6","cornerRadius":2},
 "encoding":{"x":{"datum":2005.329,"axis":null},"x2":{"datum":2005.374},"y":{"datum":3.866,"axis":null},"y2":{"datum":3.607}}},
{"data":{"values":[{}]},
 "mark":{"type":"text","text":"NKE","font":"Inter","fontSize":14,"fontWeight":"bold","align":"left","baseline":"middle","color":"#1f2430"},
 "encoding":{"x":{"datum":2005.464,"axis":null},"y":{"datum":3.734,"axis":null}}},
{"data":{"values":[{}]},
 "mark":{"type":"text","text":"NIKE, Inc.","font":"Inter","fontSize":14,"fontWeight":"bold","align":"left","baseline":"middle","color":"#1f2430"},
 "encoding":{"x":{"datum":2005.945,"axis":null},"y":{"datum":3.734,"axis":null}}},
{"data":{"values":[{}]},
 "mark":{"type":"text","text":"Dividend Yield (Ind)","font":"Inter","fontSize":14,"fontWeight":"normal","align":"left","baseline":"middle","color":"#1f2430"},
 "encoding":{"x":{"datum":2006.837,"axis":null},"y":{"datum":3.734,"axis":null}}},
{"data":{"values":[{}]},
 "mark":{"type":"text","text":"3.00%","font":"Inter","fontSize":14,"fontWeight":"bold","align":"left","baseline":"middle","color":"#1f2430"},
 "encoding":{"x":{"datum":2008.481,"axis":null},"y":{"datum":3.734,"axis":null}}},
{"data":{"values":[{}]},
 "mark":{"type":"text","text":"×","font":"Inter","fontSize":20,"fontWeight":"normal","align":"center","baseline":"middle","color":"#b8bcc2"},
 "encoding":{"x":{"datum":2009.209,"axis":null},"y":{"datum":3.72,"axis":null}}},
{"data":{"values":[{}]},
 "mark":{"type":"rect","fill":"#4a8df6"},
 "encoding":{"x":{"datum":2025.556,"axis":null},"x2":{"datum":2026.85},"y":{"datum":3.127,"axis":null},"y2":{"datum":2.886}}},
{"data":{"values":[{}]},
 "mark":{"type":"text","text":["Div Yld (Ind)","3.00%"],"lineHeight":14,"font":"Liberation Sans","fontSize":13,"fontWeight":"bold","align":"center","baseline":"middle","color":"white"},
 "encoding":{"x":{"datum":2026.151,"axis":null},"y":{"datum":3.053,"axis":null}}}
]
}
